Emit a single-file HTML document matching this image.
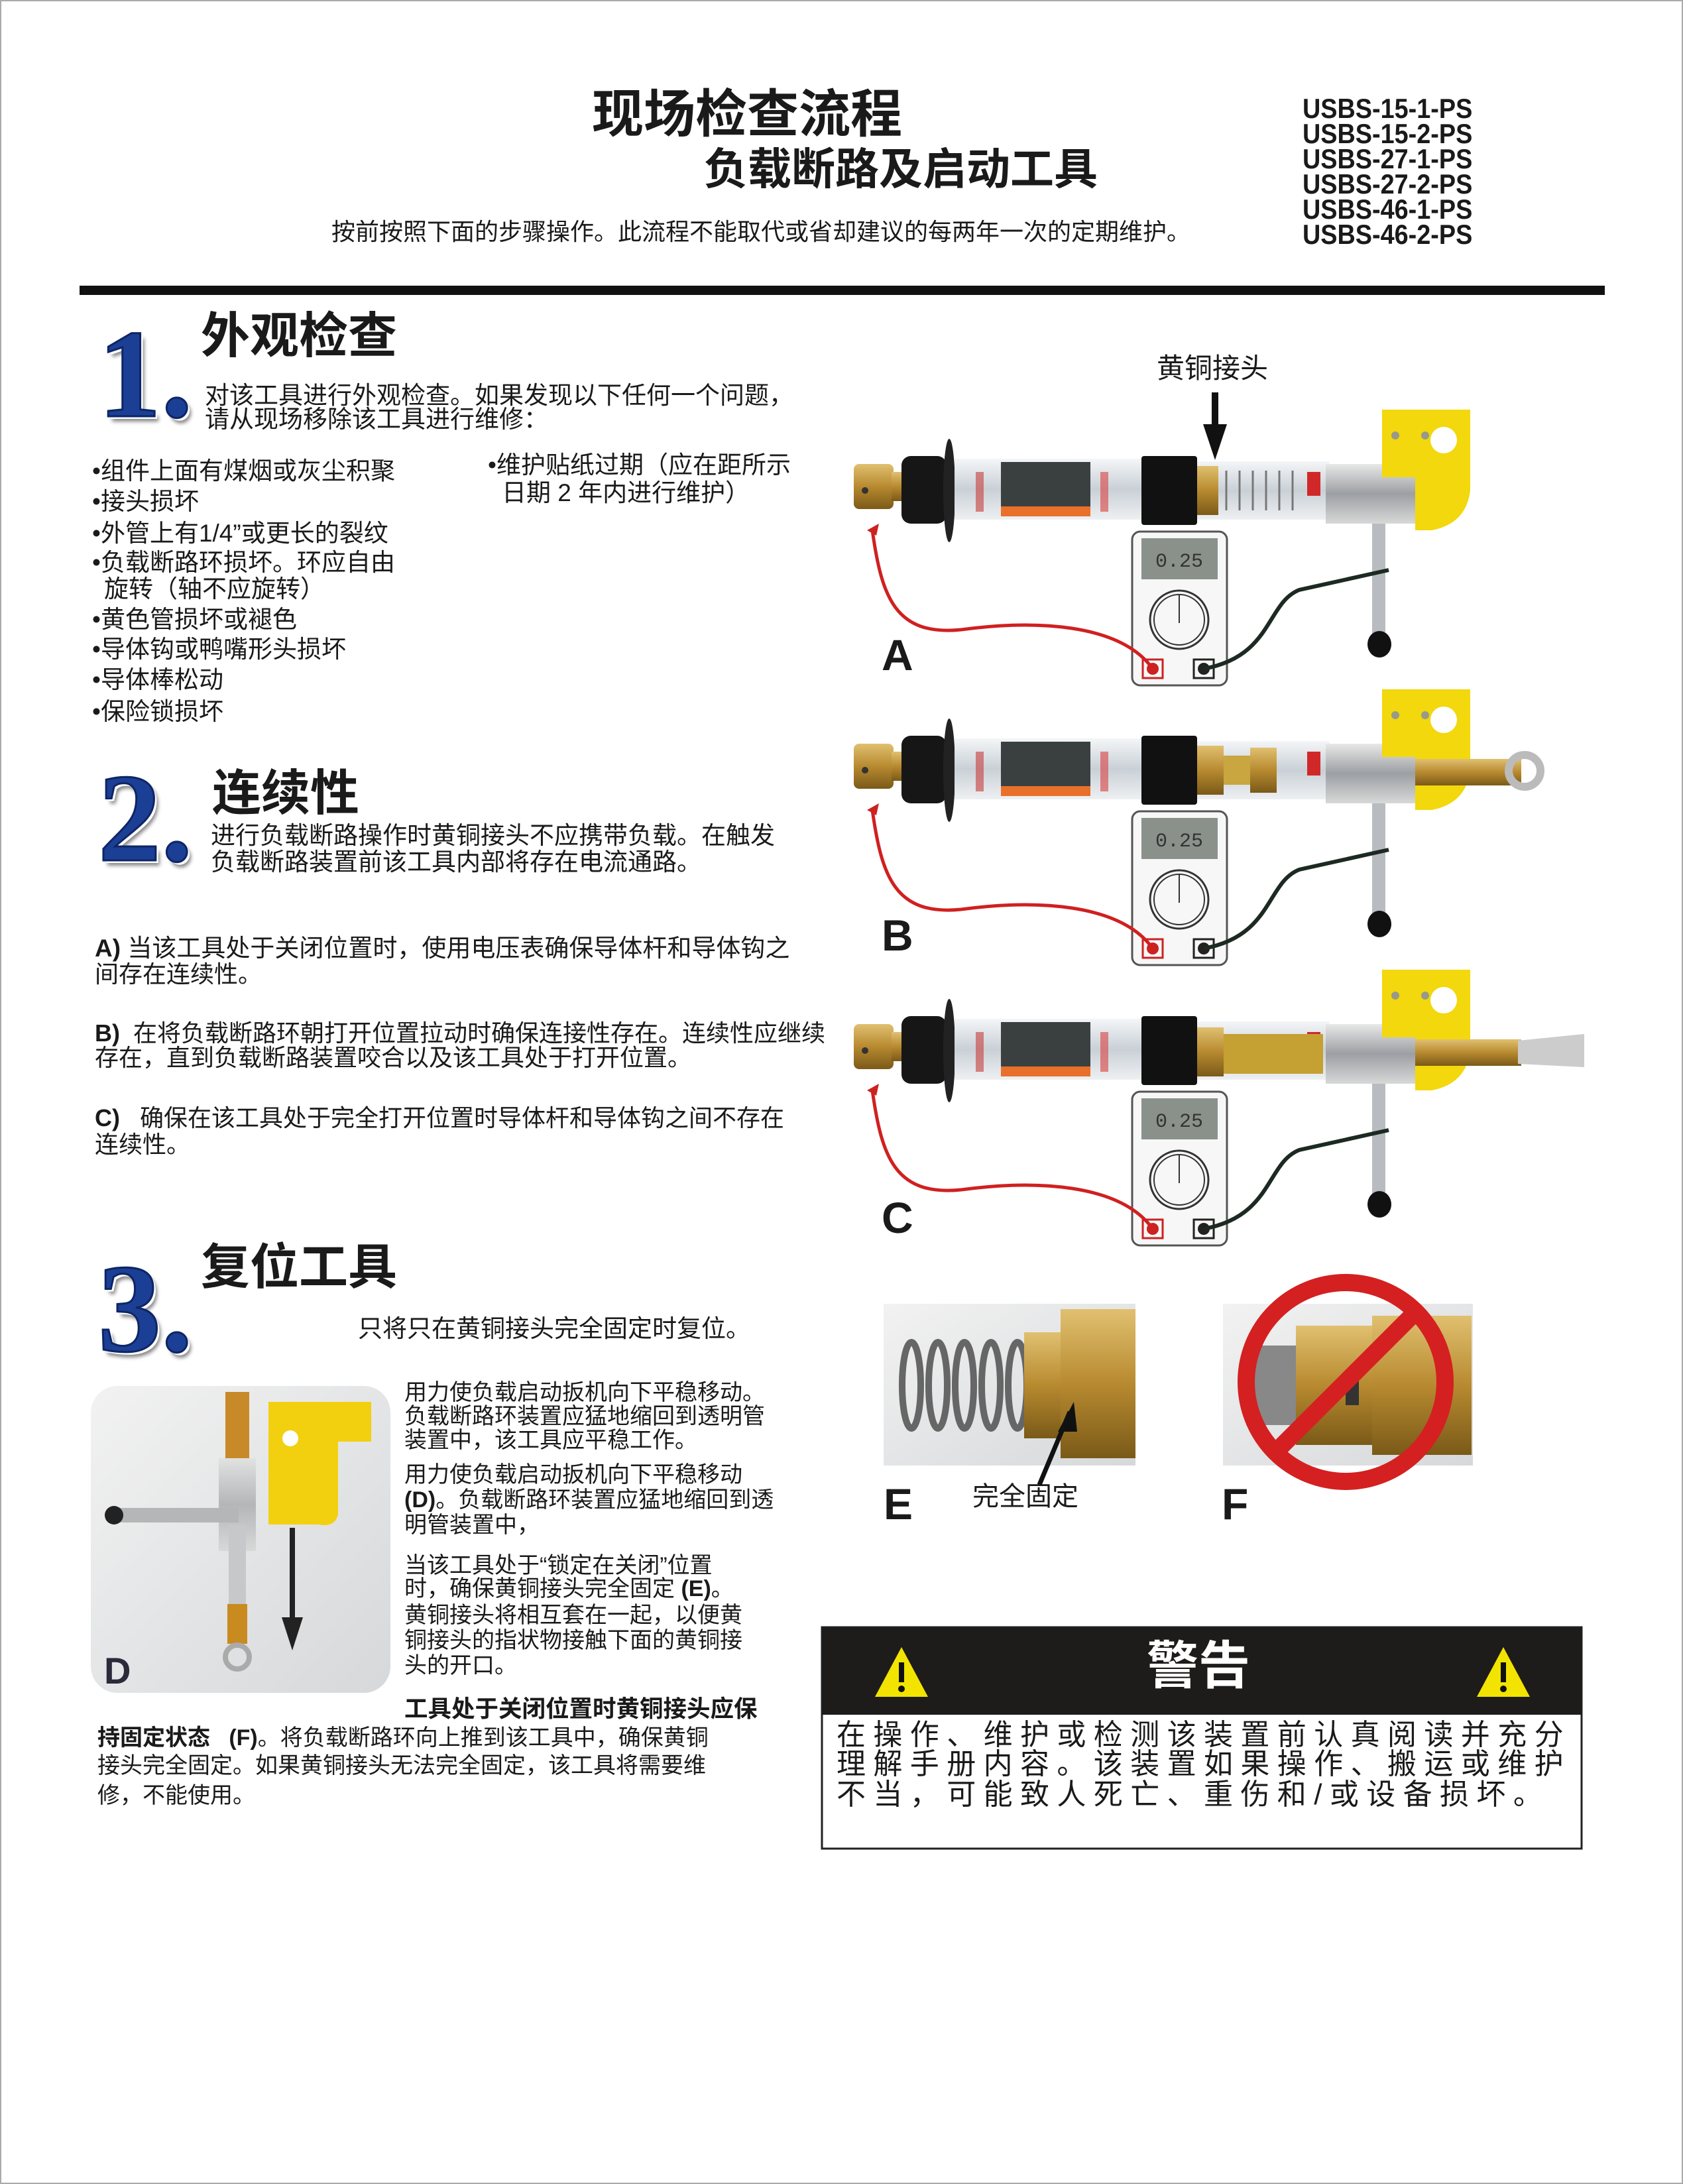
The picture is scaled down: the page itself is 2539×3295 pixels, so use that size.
<!DOCTYPE html>
<html><head><meta charset="utf-8">
<style>
html,body{margin:0;padding:0;background:#fff}
body{width:2539px;height:3295px;position:relative;overflow:hidden;font-family:"Liberation Sans","Noto Sans CJK SC",sans-serif;color:#1a1a1a}
.t{position:absolute;white-space:nowrap;line-height:1}
.num{position:absolute;font-family:"Liberation Serif",serif;font-weight:bold;color:#1b3f94;font-size:190px;line-height:1;text-shadow:4px 4px 0 #fff,6px 8px 6px #888;-webkit-text-stroke:3px #0e2566}
.h{font-size:74px;font-weight:bold}
.p{font-size:36px}
.b{font-size:37px}
.m{font-family:"Liberation Sans",sans-serif;font-weight:bold;font-size:42px;line-height:38px;position:absolute;left:1965px;top:145px;transform:scaleX(0.9);transform-origin:left}
.lab{font-family:"Liberation Sans",sans-serif;font-weight:bold;font-size:66px;position:absolute;line-height:1}
</style></head><body>
<div style="position:absolute;left:0;top:0;width:2535px;height:3291px;border:2px solid #aaa"></div>

<div class="t" style="left:893px;top:133px;font-size:78px;font-weight:bold">现场检查流程</div>
<div class="t" style="left:1062px;top:222px;font-size:66px;font-weight:bold">负载断路及启动工具</div>
<div class="t" style="left:500px;top:332px;font-size:36px">按前按照下面的步骤操作。此流程不能取代或省却建议的每两年一次的定期维护。</div>
<div class="m">USBS-15-1-PS<br>USBS-15-2-PS<br>USBS-27-1-PS<br>USBS-27-2-PS<br>USBS-46-1-PS<br>USBS-46-2-PS</div>
<div style="position:absolute;left:120px;top:431px;width:2301px;height:14px;background:#111"></div>

<!-- Section 1 -->
<div class="num" style="left:148px;top:470px">1.</div>
<div class="t h" style="left:303px;top:470px">外观检查</div>
<div class="t p" style="left:309px;top:578px;font-size:37px">对该工具进行外观检查。如果发现以下任何一个问题，</div>
<div class="t p" style="left:309px;top:614px;font-size:37px">请从现场移除该工具进行维修：</div>
<div class="t b" style="left:139px;top:692px">•组件上面有煤烟或灰尘积聚</div>
<div class="t b" style="left:139px;top:738px">•接头损坏</div>
<div class="t b" style="left:139px;top:786px">•外管上有1/4”或更长的裂纹</div>
<div class="t b" style="left:139px;top:830px">•负载断路环损坏。环应自由</div>
<div class="t b" style="left:157px;top:870px">旋转（轴不应旋转）</div>
<div class="t b" style="left:139px;top:916px">•黄色管损坏或褪色</div>
<div class="t b" style="left:139px;top:961px">•导体钩或鸭嘴形头损坏</div>
<div class="t b" style="left:139px;top:1007px">•导体棒松动</div>
<div class="t b" style="left:139px;top:1055px">•保险锁损坏</div>
<div class="t b" style="left:736px;top:683px">•维护贴纸过期（应在距所示</div>
<div class="t b" style="left:757px;top:725px">日期 2 年内进行维护）</div>

<!-- Section 2 -->
<div class="num" style="left:148px;top:1140px">2.</div>
<div class="t h" style="left:320px;top:1160px">连续性</div>
<div class="t p" style="left:318px;top:1242px;font-size:37px">进行负载断路操作时黄铜接头不应携带负载。在触发</div>
<div class="t p" style="left:318px;top:1282px;font-size:37px">负载断路装置前该工具内部将存在电流通路。</div>
<div class="t p" style="left:143px;top:1412px;font-size:37px"><b>A)</b> 当该工具处于关闭位置时，使用电压表确保导体杆和导体钩之</div>
<div class="t p" style="left:143px;top:1452px">间存在连续性。</div>
<div class="t p" style="left:143px;top:1541px"><b>B)</b>&nbsp; 在将负载断路环朝打开位置拉动时确保连接性存在。连续性应继续</div>
<div class="t p" style="left:143px;top:1578px">存在，直到负载断路装置咬合以及该工具处于打开位置。</div>
<div class="t p" style="left:143px;top:1669px"><b>C)</b>&nbsp;&nbsp; 确保在该工具处于完全打开位置时导体杆和导体钩之间不存在</div>
<div class="t p" style="left:143px;top:1709px">连续性。</div>

<!-- Section 3 -->
<div class="num" style="left:148px;top:1880px">3.</div>
<div class="t h" style="left:303px;top:1875px">复位工具</div>
<div class="t p" style="left:540px;top:1986px;font-size:37px">只将只在黄铜接头完全固定时复位。</div>

<div class="t p" style="left:610px;top:2084px;font-size:34px">用力使负载启动扳机向下平稳移动。</div>
<div class="t p" style="left:610px;top:2120px;font-size:34px">负载断路环装置应猛地缩回到透明管</div>
<div class="t p" style="left:610px;top:2156px;font-size:34px">装置中，该工具应平稳工作。</div>
<div class="t p" style="left:610px;top:2208px;font-size:34px">用力使负载启动扳机向下平稳移动</div>
<div class="t p" style="left:610px;top:2246px;font-size:34px"><b>(D)</b>。负载断路环装置应猛地缩回到透</div>
<div class="t p" style="left:610px;top:2284px;font-size:34px">明管装置中，</div>
<div class="t p" style="left:610px;top:2345px;font-size:34px">当该工具处于“锁定在关闭”位置</div>
<div class="t p" style="left:610px;top:2380px;font-size:34px">时，确保黄铜接头完全固定 <b>(E)</b>。</div>
<div class="t p" style="left:610px;top:2420px;font-size:34px">黄铜接头将相互套在一起，以便黄</div>
<div class="t p" style="left:610px;top:2458px;font-size:34px">铜接头的指状物接触下面的黄铜接</div>
<div class="t p" style="left:610px;top:2496px;font-size:34px">头的开口。</div>
<div class="t p" style="left:610px;top:2561px;font-size:35.5px;font-weight:bold">工具处于关闭位置时黄铜接头应保</div>
<div class="t p" style="left:147px;top:2605px;font-size:34px"><b>持固定状态&nbsp;&nbsp; (F)</b>。将负载断路环向上推到该工具中，确保黄铜</div>
<div class="t p" style="left:147px;top:2647px;font-size:34px">接头完全固定。如果黄铜接头无法完全固定，该工具将需要维</div>
<div class="t p" style="left:147px;top:2692px;font-size:34px">修，不能使用。</div>

<div class="t" style="left:1745px;top:535px;font-size:42px">黄铜接头</div>
<div class="lab" style="left:1330px;top:955px">A</div>
<div class="lab" style="left:1330px;top:1378px">B</div>
<div class="lab" style="left:1330px;top:1804px">C</div>
<div class="lab" style="left:1333px;top:2236px">E</div>
<div class="lab" style="left:1843px;top:2236px">F</div>
<div class="t" style="left:1467px;top:2238px;font-size:40px">完全固定</div>

<svg width="2539" height="3295" style="position:absolute;left:0;top:0" xmlns="http://www.w3.org/2000/svg">
<defs>
<linearGradient id="br" x1="0" y1="0" x2="0" y2="1"><stop offset="0" stop-color="#e0c070"/><stop offset=".5" stop-color="#b88a30"/><stop offset="1" stop-color="#7a5a18"/></linearGradient>
<linearGradient id="tb" x1="0" y1="0" x2="0" y2="1"><stop offset="0" stop-color="#f4f6f8"/><stop offset=".5" stop-color="#c9d0d6"/><stop offset="1" stop-color="#eef0f2"/></linearGradient>
<linearGradient id="sv" x1="0" y1="0" x2="0" y2="1"><stop offset="0" stop-color="#e8e8e8"/><stop offset=".5" stop-color="#9c9fa3"/><stop offset="1" stop-color="#d8d8d8"/></linearGradient>
<linearGradient id="ph" x1="0" y1="0" x2="1" y2="1"><stop offset="0" stop-color="#f2f2f2"/><stop offset="1" stop-color="#d6d8da"/></linearGradient>
<g id="tool">
 <rect x="1288" y="700" width="60" height="68" rx="8" fill="url(#br)"/>
 <circle cx="1305" cy="740" r="5" fill="#333"/>
 <rect x="1345" y="712" width="18" height="44" fill="url(#br)"/>
 <rect x="1360" y="688" width="68" height="102" rx="14" fill="#161616"/>
 <ellipse cx="1432" cy="740" rx="9" ry="78" fill="#222"/>
 <rect x="1440" y="692" width="285" height="92" fill="url(#tb)"/>
 <rect x="1510" y="697" width="135" height="82" fill="#3a4040"/>
 <rect x="1510" y="764" width="135" height="15" fill="#e8702a"/>
 <rect x="1472" y="712" width="12" height="60" fill="#c83a3a" opacity=".6"/>
 <rect x="1660" y="712" width="12" height="60" fill="#d84040" opacity=".6"/>
 <rect x="1722" y="688" width="84" height="104" rx="4" fill="#111"/>
 <rect x="1806" y="696" width="200" height="88" fill="url(#tb)"/>
 <rect x="1972" y="712" width="20" height="36" fill="#d02828"/>
 <rect x="2000" y="700" width="135" height="90" fill="url(#sv)"/>
 <path d="M2085 618 L2218 618 L2218 740 Q2212 790 2160 800 L2135 800 L2135 720 L2085 720 Z" fill="#f2d80c"/>
 <circle cx="2178" cy="664" r="20" fill="#fff"/>
 <circle cx="2105" cy="657" r="6" fill="#998"/><circle cx="2150" cy="657" r="6" fill="#998"/>
 <rect x="2070" y="790" width="20" height="170" fill="#b8bcc0"/>
 <ellipse cx="2081" cy="972" rx="18" ry="20" fill="#111"/>
 <rect x="1708" y="802" width="143" height="232" rx="12" fill="#f7f7f7" stroke="#555" stroke-width="3"/>
 <rect x="1722" y="812" width="115" height="62" fill="#8a918b"/>
 <text x="1779" y="855" font-family="Liberation Mono" font-size="30" text-anchor="middle" fill="#333">0.25</text>
 <circle cx="1779" cy="935" r="44" fill="none" stroke="#333" stroke-width="3"/>
 <circle cx="1779" cy="935" r="38" fill="none" stroke="#333" stroke-width="2"/>
 <line x1="1779" y1="897" x2="1779" y2="940" stroke="#333" stroke-width="2"/>
 <rect x="1724" y="995" width="30" height="28" fill="none" stroke="#c22" stroke-width="3"/>
 <circle cx="1739" cy="1009" r="9" fill="#c22"/>
 <rect x="1801" y="995" width="30" height="28" fill="none" stroke="#222" stroke-width="3"/>
 <circle cx="1816" cy="1009" r="9" fill="#222"/>
 <path d="M1316 800 C1330 900 1350 960 1450 950 C1560 935 1690 940 1739 1009" fill="none" stroke="#d02020" stroke-width="5"/>
 <path d="M1308 800 L1326 790 L1322 808 Z" fill="#c22"/>
 <path d="M2095 860 L1960 890 C1910 910 1920 990 1816 1009" fill="none" stroke="#1c2a22" stroke-width="6"/>
</g>
</defs>
<use href="#tool"/>
<use href="#tool" transform="translate(0,422)"/>
<use href="#tool" transform="translate(0,845)"/>
<g stroke="#777" stroke-width="3" fill="none">
<path d="M1850 710 v60 M1870 710 v60 M1890 710 v60 M1910 710 v60 M1930 710 v60 M1950 710 v60"/>
</g>
<rect x="1806" y="703" width="32" height="74" fill="url(#br)"/>
<rect x="1806" y="1125" width="40" height="74" fill="url(#br)"/>
<rect x="1846" y="1140" width="40" height="44" fill="#c9a640"/>
<rect x="1886" y="1128" width="40" height="68" fill="url(#br)"/>
<rect x="2135" y="1145" width="160" height="40" fill="url(#br)"/>
<circle cx="2300" cy="1163" r="24" fill="none" stroke="#bbb" stroke-width="12"/>
<rect x="1806" y="1550" width="40" height="74" fill="url(#br)"/>
<rect x="1846" y="1560" width="150" height="60" fill="#c5a032"/>
<rect x="2135" y="1568" width="160" height="40" fill="url(#br)"/>
<path d="M2290 1570 L2390 1560 L2390 1610 L2290 1605 Z" fill="#ccc"/>
<rect x="1828" y="592" width="10" height="60" fill="#111"/>
<path d="M1815 640 L1851 640 L1833 694 Z" fill="#111"/>

<rect x="137" y="2091" width="452" height="463" rx="40" fill="url(#ph)"/>
<rect x="340" y="2100" width="36" height="100" fill="#c88a28"/>
<rect x="330" y="2200" width="56" height="140" fill="#d8d8d8"/>
<rect x="330" y="2200" width="56" height="140" fill="url(#sv)" opacity=".6"/>
<path d="M405 2115 L560 2115 L560 2175 L510 2175 L510 2285 Q505 2305 480 2300 L405 2300 Z" fill="#f2d010"/>
<circle cx="438" cy="2170" r="12" fill="#fff"/>
<rect x="180" y="2275" width="180" height="22" fill="#b4b6b8"/>
<circle cx="172" cy="2286" r="14" fill="#222"/>
<rect x="345" y="2300" width="26" height="160" fill="#c6c8ca"/>
<rect x="343" y="2420" width="30" height="60" fill="#c98a20"/>
<circle cx="358" cy="2500" r="18" fill="none" stroke="#aaa" stroke-width="8"/>
<rect x="437" y="2305" width="8" height="150" fill="#222"/>
<path d="M425 2440 L457 2440 L441 2490 Z" fill="#222"/>
<text x="157" y="2540" font-family="Liberation Sans" font-weight="bold" font-size="56" fill="#2a2a3a">D</text>

<rect x="1333" y="1967" width="380" height="244" fill="url(#ph)"/>
<g fill="none" stroke="#666" stroke-width="10">
<ellipse cx="1375" cy="2090" rx="14" ry="65"/><ellipse cx="1415" cy="2090" rx="14" ry="65"/><ellipse cx="1455" cy="2090" rx="14" ry="65"/><ellipse cx="1495" cy="2090" rx="14" ry="65"/><ellipse cx="1535" cy="2090" rx="14" ry="65"/>
</g>
<rect x="1545" y="2010" width="60" height="160" fill="url(#br)"/>
<rect x="1600" y="1975" width="113" height="225" fill="url(#br)"/>
<path d="M1614 2130 L1568 2240" stroke="#111" stroke-width="7"/>
<path d="M1620 2115 L1596 2160 L1625 2160 Z" fill="#111"/>
<rect x="1845" y="1967" width="377" height="244" fill="url(#ph)"/>
<rect x="1880" y="2030" width="80" height="120" fill="#888"/>
<rect x="1955" y="2000" width="120" height="180" fill="url(#br)"/>
<rect x="2070" y="1985" width="150" height="210" fill="url(#br)"/>
<rect x="2030" y="2080" width="20" height="40" fill="#333"/>
<circle cx="2030" cy="2085" r="150" fill="none" stroke="#d42020" stroke-width="26"/>
<line x1="1925" y1="2190" x2="2135" y2="1980" stroke="#d42020" stroke-width="26"/>

<rect x="1240" y="2455" width="1146" height="334" fill="#fff" stroke="#222" stroke-width="3"/>
<rect x="1240" y="2455" width="1146" height="132" fill="#1e1b1b"/>
<text x="1808" y="2540" font-family="Noto Sans CJK SC" font-weight="bold" font-size="78" fill="#fff" text-anchor="middle">警告</text>
<path d="M1360 2485 L1400 2560 L1320 2560 Z" fill="#f2e400"/>
<rect x="1356" y="2508" width="8" height="30" fill="#111"/><circle cx="1360" cy="2548" r="5" fill="#111"/>
<path d="M2268 2485 L2308 2560 L2228 2560 Z" fill="#f2e400"/>
<rect x="2264" y="2508" width="8" height="30" fill="#111"/><circle cx="2268" cy="2548" r="5" fill="#111"/>
</svg>
<div class="t" style="left:1262px;top:2596px;font-size:44px;letter-spacing:11.4px">在操作、维护或检测该装置前认真阅读并充分</div>
<div class="t" style="left:1262px;top:2640px;font-size:44px;letter-spacing:11.4px">理解手册内容。该装置如果操作、搬运或维护</div>
<div class="t" style="left:1262px;top:2686px;font-size:44px;letter-spacing:11.4px">不当，可能致人死亡、重伤和/或设备损坏。</div>
</body></html>
